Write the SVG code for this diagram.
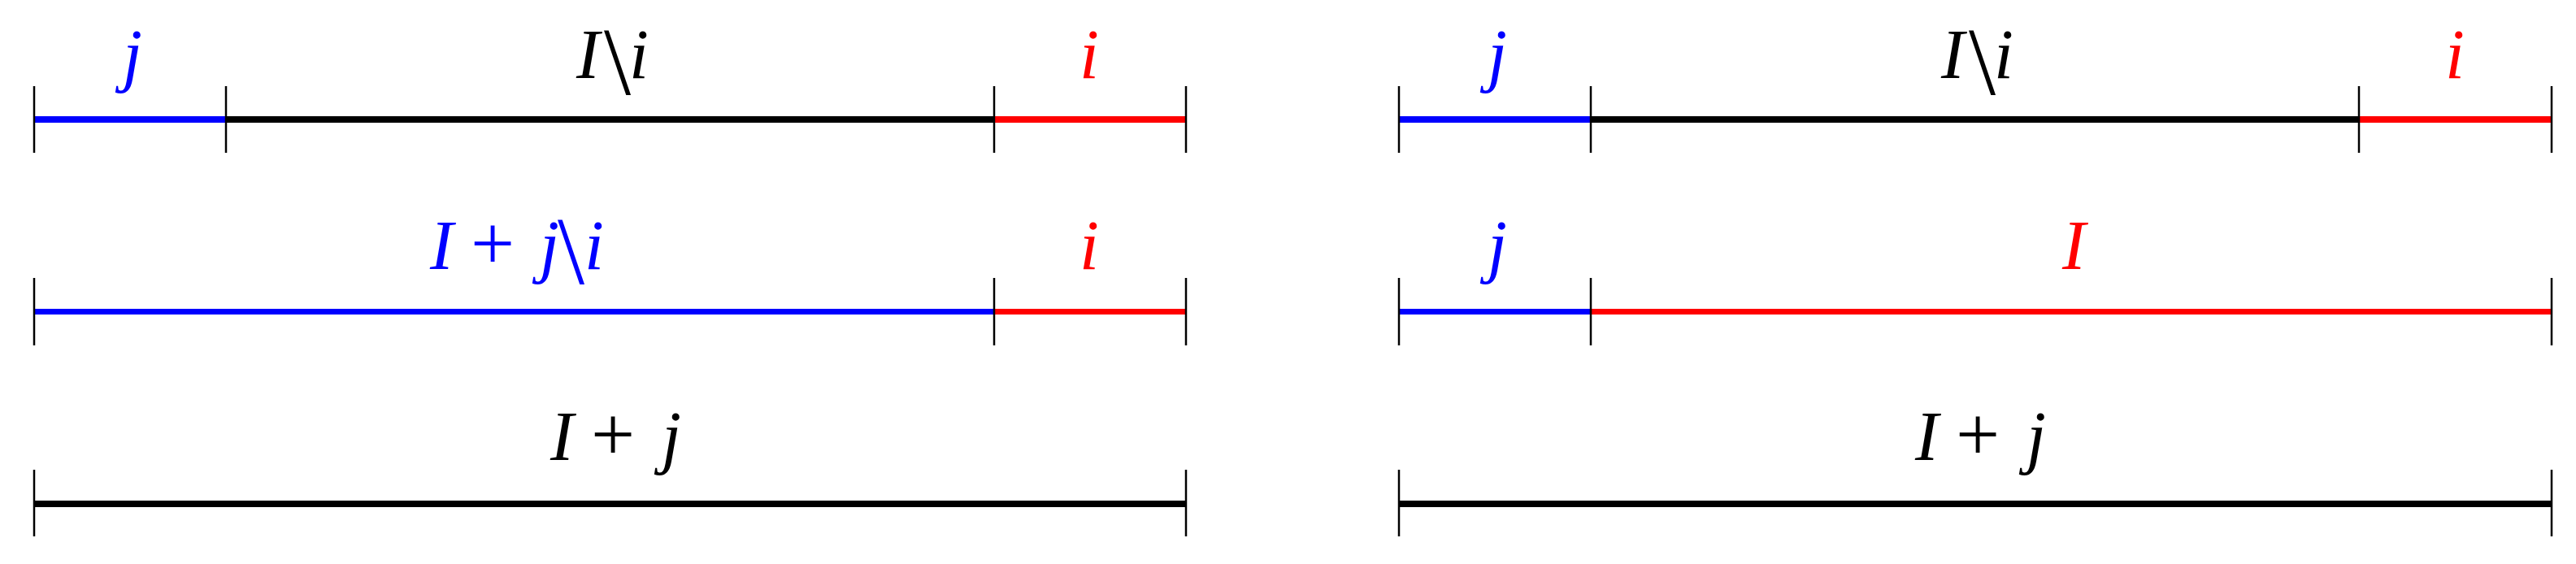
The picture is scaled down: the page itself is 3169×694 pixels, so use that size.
<svg xmlns="http://www.w3.org/2000/svg" width="3169" height="694" viewBox="0 0 3169 694">
<style>
.seg{stroke-width:8;fill:none;stroke-linecap:butt}
.seg2{stroke-width:7}
.k{stroke:#000}
.b{stroke:#0000FF}
.r{stroke:#FF0000}
.tick{stroke:#000;stroke-width:2.5}
text{font-family:"Liberation Serif","Times New Roman",serif;font-size:86px;font-style:italic}
.tb{fill:#0000FF}
.tr{fill:#FF0000}
.tk{fill:#000}
.up{font-style:normal}
.pl{font-style:normal;font-size:96px}
.bs{font-style:normal;font-size:119px}
</style>
<rect width="3169" height="694" fill="#fff"/>

<!-- LEFT PANEL -->
<g id="L-row1-j"><line class="seg b" x1="42" y1="147" x2="278" y2="147"/><text class="tb" x="151" y="96">j</text></g>
<g id="L-row1-Ii"><line class="seg k" x1="278" y1="147" x2="1223" y2="147"/><text class="tk"><tspan x="709" y="96">I</tspan><tspan class="bs" x="743" y="116">\</tspan><tspan x="774" y="96">i</tspan></text></g>
<g id="L-row1-i"><line class="seg r" x1="1223" y1="147" x2="1459" y2="147"/><text class="tr" x="1328" y="96">i</text></g>

<g id="L-row2-Iji"><line class="seg seg2 b" x1="42" y1="383.5" x2="1223" y2="383.5"/><text class="tb"><tspan x="529" y="331">I</tspan><tspan class="pl" x="579" y="331">+</tspan><tspan x="664" y="331">j</tspan><tspan class="bs" x="686" y="349">\</tspan><tspan x="719" y="331">i</tspan></text></g>
<g id="L-row2-i"><line class="seg seg2 r" x1="1223" y1="383.5" x2="1459" y2="383.5"/><text class="tr" x="1328" y="331">i</text></g>

<g id="L-row3-Ij"><line class="seg k" x1="42" y1="620" x2="1459" y2="620"/><text class="tk"><tspan x="677" y="566">I</tspan><tspan class="pl" x="727" y="566">+</tspan><tspan x="814" y="566">j</tspan></text></g>

<!-- RIGHT PANEL -->
<g id="R-row1-j"><line class="seg b" x1="1721" y1="147" x2="1957" y2="147"/><text class="tb" x="1830" y="96">j</text></g>
<g id="R-row1-Ii"><line class="seg k" x1="1957" y1="147" x2="2902" y2="147"/><text class="tk"><tspan x="2388" y="96">I</tspan><tspan class="bs" x="2422" y="116">\</tspan><tspan x="2453" y="96">i</tspan></text></g>
<g id="R-row1-i"><line class="seg r" x1="2902" y1="147" x2="3139" y2="147"/><text class="tr" x="3008" y="96">i</text></g>

<g id="R-row2-j"><line class="seg seg2 b" x1="1721" y1="383.5" x2="1957" y2="383.5"/><text class="tb" x="1830" y="331">j</text></g>
<g id="R-row2-I"><line class="seg seg2 r" x1="1957" y1="383.5" x2="3139" y2="383.5"/><text class="tr" x="2537" y="331">I</text></g>

<g id="R-row3-Ij"><line class="seg k" x1="1721" y1="620" x2="3139" y2="620"/><text class="tk"><tspan x="2356" y="566">I</tspan><tspan class="pl" x="2406" y="566">+</tspan><tspan x="2493" y="566">j</tspan></text></g>

<!-- tick marks -->
<g id="connectors">
<line class="tick" x1="42" y1="106" x2="42" y2="188"/>
<line class="tick" x1="278" y1="106" x2="278" y2="188"/>
<line class="tick" x1="1223" y1="106" x2="1223" y2="188"/>
<line class="tick" x1="1459" y1="106" x2="1459" y2="188"/>
<line class="tick" x1="42" y1="342" x2="42" y2="425"/>
<line class="tick" x1="1223" y1="342" x2="1223" y2="425"/>
<line class="tick" x1="1459" y1="342" x2="1459" y2="425"/>
<line class="tick" x1="42" y1="578" x2="42" y2="660"/>
<line class="tick" x1="1459" y1="578" x2="1459" y2="660"/>
<line class="tick" x1="1721" y1="106" x2="1721" y2="188"/>
<line class="tick" x1="1957" y1="106" x2="1957" y2="188"/>
<line class="tick" x1="2902" y1="106" x2="2902" y2="188"/>
<line class="tick" x1="3139" y1="106" x2="3139" y2="188"/>
<line class="tick" x1="1721" y1="342" x2="1721" y2="425"/>
<line class="tick" x1="1957" y1="342" x2="1957" y2="425"/>
<line class="tick" x1="3139" y1="342" x2="3139" y2="425"/>
<line class="tick" x1="1721" y1="578" x2="1721" y2="660"/>
<line class="tick" x1="3139" y1="578" x2="3139" y2="660"/>
</g>
</svg>
